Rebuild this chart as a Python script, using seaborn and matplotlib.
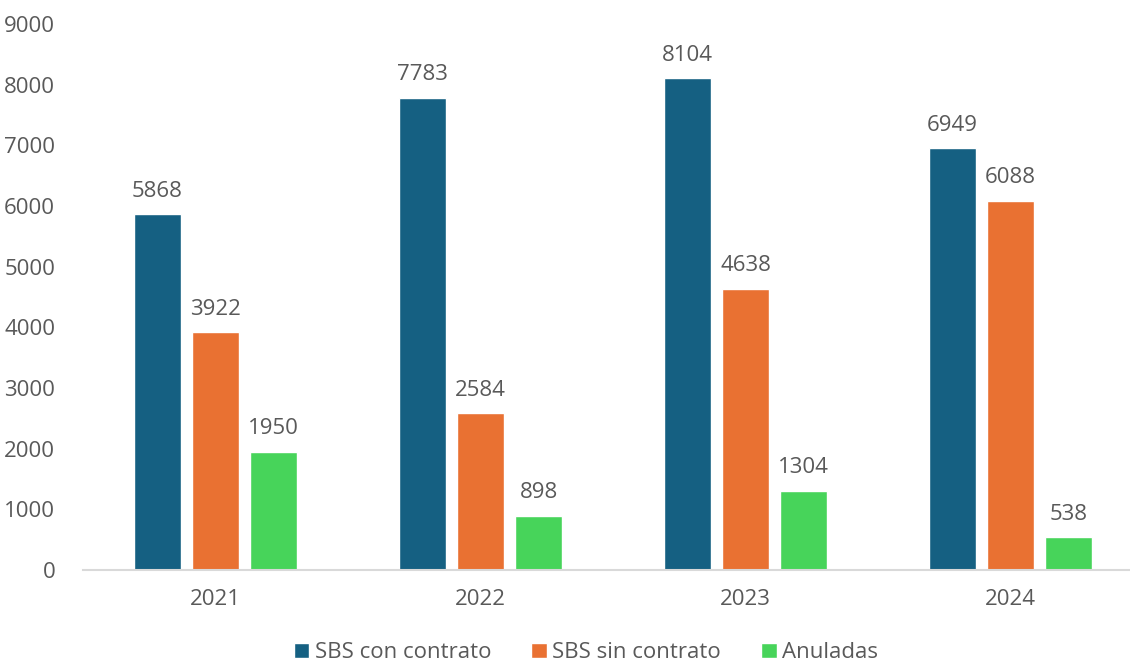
import matplotlib
matplotlib.use("Agg")
import matplotlib.pyplot as plt
import seaborn as sns
import pandas as pd

years = ["2021", "2022", "2023", "2024"]
series_names = ["SBS con contrato", "SBS sin contrato", "Anuladas"]
con_contrato = [5868, 7783, 8104, 6949]
sin_contrato = [3922, 2584, 4638, 6088]
anuladas = [1950, 898, 1304, 538]
yticks = [0, 1000, 2000, 3000, 4000, 5000, 6000, 7000, 8000, 9000]

colors = ["#156082", "#E97132", "#47D45A"]
text_color = "#595959"

sns.set_theme(style="white")
plt.rcParams["font.family"] = ["Open Sans", "DejaVu Sans"]

rows = []
for name, vals in zip(series_names, [con_contrato, sin_contrato, anuladas]):
    for y, v in zip(years, vals):
        rows.append({"Año": y, "Serie": name, "Valor": v})
df = pd.DataFrame(rows)

fig = plt.figure(figsize=(11.3, 6.62), dpi=100)
ax = fig.add_axes([83 / 1130, 92 / 662, 1060 / 1130, 546 / 662])

sns.barplot(data=df, x="Año", y="Valor", hue="Serie", order=years,
            hue_order=series_names, palette=colors, width=0.66, gap=0.2,
            saturation=1, ax=ax, legend=True)

for cont in ax.containers:
    ax.bar_label(cont, labels=[f"{int(v)}" for v in cont.datavalues],
                 padding=9, fontsize=16, color=text_color)

ax.set_xlim(-0.5, 3.5)
ax.set_ylim(0, 9000)
ax.set_yticks(yticks)
ax.set_yticklabels([str(t) for t in yticks])
ax.set_xlabel("")
ax.set_ylabel("")
for s in ["top", "right", "left"]:
    ax.spines[s].set_visible(False)
ax.spines["bottom"].set_color("#D9D9D9")
ax.spines["bottom"].set_linewidth(1.5)
ax.tick_params(axis="y", length=0, pad=20, labelsize=16, labelcolor=text_color)
ax.tick_params(axis="x", length=0, pad=14, labelsize=16, labelcolor=text_color)
ax.grid(False)

leg = ax.legend(loc="center", bbox_to_anchor=(0.4745, -0.152),
                ncol=3, frameon=False, fontsize=16, handlelength=0.7,
                handleheight=0.7, handletextpad=0.25, columnspacing=1.8,
                labelcolor=text_color)

fig.savefig("out.png", dpi=100)
